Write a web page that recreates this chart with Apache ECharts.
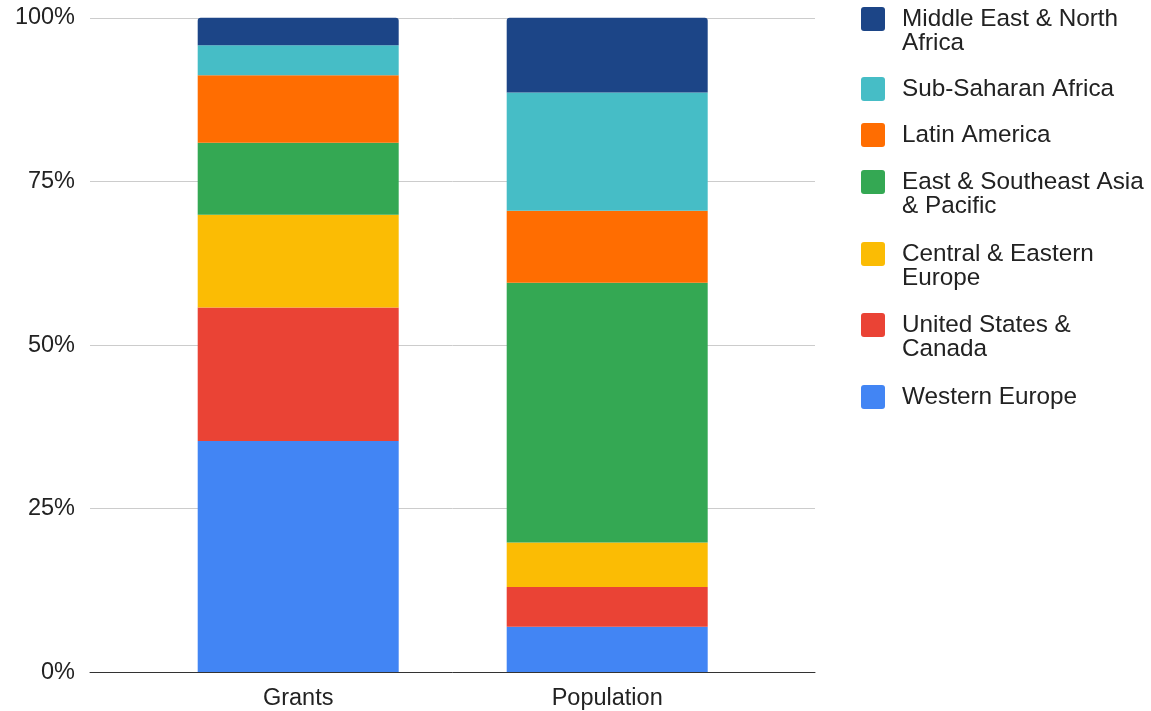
<!DOCTYPE html>
<html>
<head>
<meta charset="utf-8">
<title>Grants vs Population by Region</title>
<script src="https://cdn.jsdelivr.net/npm/echarts@6/dist/echarts.min.js"></script>
<style>
  html, body { margin: 0; padding: 0; background: #ffffff; }
  #chart { width: 1151px; height: 711px; }
</style>
</head>
<body>
<div id="chart"></div>
<script>
// Categories on the x axis
const categories = ['Grants', 'Population'];

// Regions, bottom of the stack first
const regions = [
  'Western Europe',
  'United States & Canada',
  'Central & Eastern Europe',
  'East & Southeast Asia & Pacific',
  'Latin America',
  'Sub-Saharan Africa',
  'Middle East & North Africa'
];

// How each region name wraps in the legend
const regionLegendText = [
  'Western Europe',
  'United States &\nCanada',
  'Central & Eastern\nEurope',
  'East & Southeast Asia\n& Pacific',
  'Latin America',
  'Sub-Saharan Africa',
  'Middle East & North\nAfrica'
];

// Share of each region (percent)
const grantShares      = [35.3, 20.4, 14.2, 11.0, 10.3, 4.6, 4.2];
const populationShares = [6.9, 6.1, 6.8, 39.7, 11.0, 18.1, 11.4];

// Y axis ticks
const yMin = 0;
const yMax = 100;
const yStep = 25;

const regionColors = ['#4285f4', '#ea4335', '#fbbc04', '#34a853', '#ff6d01', '#46bdc6', '#1c4587'];

const FONT = '"Liberation Sans", Arial, sans-serif';
const TEXT_COLOR = '#222222';

// Legend layout: swatch size, text line height, swatch top of each entry
const SWATCH = 24;
const LINE_H = 24.5;
const legendSwatchTops = [385, 313, 242, 170, 123, 77, 7]; // same order as regions

const legendLookup = {};
regions.forEach((r, i) => { legendLookup[r] = regionLegendText[i]; });

const series = regions.map((name, i) => ({
  name: name,
  type: 'bar',
  stack: 'share',
  xAxisIndex: 1,
  yAxisIndex: 1,
  barWidth: 201,
  data: [grantShares[i], populationShares[i]],
  itemStyle: {
    color: regionColors[i],
    borderRadius: i === regions.length - 1 ? [3, 3, 0, 0] : 0
  },
  emphasis: { disabled: true }
}));

const squareIcon = 'path://M3,0 H21 A3,3 0 0 1 24,3 V21 A3,3 0 0 1 21,24 H3 A3,3 0 0 1 0,21 V3 A3,3 0 0 1 3,0 Z';

// One legend block per region so wrapped names hang below their swatch.
// Wrapped names get a leading empty line so the first line sits beside the swatch.
const legends = regions.map((name, i) => {
  const wrapped = legendLookup[name].indexOf('\n') >= 0;
  const textBoxTop = SWATCH / 2 - (wrapped ? 1.5 : 0.5) * LINE_H;
  return {
    orient: 'vertical',
    left: 861,
    top: legendSwatchTops[i] + Math.min(0, textBoxTop),
    padding: 0,
    itemWidth: SWATCH,
    itemHeight: SWATCH,
    icon: squareIcon,
    selectedMode: false,
    data: [name],
    formatter: n => (wrapped ? '\n' : '') + legendLookup[n],
    textStyle: {
      fontSize: 24.3,
      lineHeight: LINE_H,
      color: TEXT_COLOR,
      fontFamily: FONT,
      padding: [0, 0, 0, 12]
    }
  };
});

const option = {
  backgroundColor: '#ffffff',
  animation: false,
  textStyle: { fontFamily: FONT },
  grid: [
    // wide grid: gridlines, y labels and baseline
    { left: 90, right: 336, top: 17.8, bottom: 38.7 },
    // narrower grid: bars and category labels
    { left: 143.7, right: 389.3, top: 17.8, bottom: 38.7 }
  ],
  xAxis: [
    {
      type: 'category',
      gridIndex: 0,
      data: categories,
      axisLine: { show: true, lineStyle: { color: '#333333', width: 1 } },
      axisTick: { show: false },
      axisLabel: { show: false },
      splitLine: { show: false }
    },
    {
      type: 'category',
      gridIndex: 1,
      data: categories,
      axisLine: { show: false },
      axisTick: { show: false },
      axisLabel: {
        margin: 15,
        fontSize: 23.5,
        color: TEXT_COLOR,
        fontFamily: FONT
      }
    }
  ],
  yAxis: [
    {
      type: 'value',
      gridIndex: 0,
      min: yMin,
      max: yMax,
      interval: yStep,
      axisLine: { show: false },
      axisTick: { show: false },
      axisLabel: {
        formatter: '{value}%',
        margin: 15,
        fontSize: 23.5,
        lineHeight: 24,
        padding: [3, 0, 0, 0],
        color: TEXT_COLOR,
        fontFamily: FONT
      },
      splitLine: { show: true, lineStyle: { color: '#cccccc', width: 1 } }
    },
    {
      type: 'value',
      gridIndex: 1,
      min: yMin,
      max: yMax,
      interval: yStep,
      show: false,
      splitLine: { show: false }
    }
  ],
  legend: legends,
  series: series
};

const chart = echarts.init(document.getElementById('chart'), null, { renderer: 'canvas' });
chart.setOption(option);
</script>
</body>
</html>
